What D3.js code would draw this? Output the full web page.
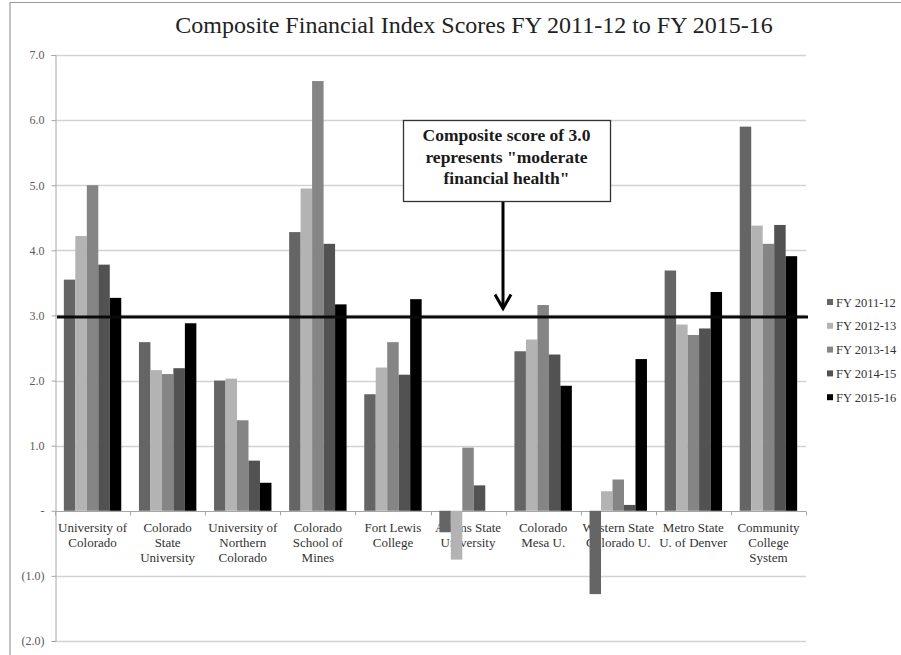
<!DOCTYPE html>
<html>
<head>
<meta charset="utf-8">
<script src="https://cdn.jsdelivr.net/npm/d3@7"></script>
<style>
  html, body { margin: 0; padding: 0; background: #fff; }
  svg { display: block; }
  text { font-family: "Liberation Serif", "Times New Roman", "DejaVu Serif", serif; }
</style>
</head>
<body>
<svg id="chart" width="901" height="655"></svg>
<script>
// Institutions (line breaks mark wrapped axis labels)
const categories = [
  "University of\nColorado",
  "Colorado\nState\nUniversity",
  "University of\nNorthern\nColorado",
  "Colorado\nSchool of\nMines",
  "Fort Lewis\nCollege",
  "Adams State\nUniversity",
  "Colorado\nMesa U.",
  "Western State\nColorado U.",
  "Metro State\nU. of Denver",
  "Community\nCollege\nSystem"
];

const seriesNames = ["FY 2011-12", "FY 2012-13", "FY 2013-14", "FY 2014-15", "FY 2015-16"];

// Composite Financial Index score per fiscal year, one entry per institution
const fy1112 = [3.55, 2.59, 2.00, 4.28, 1.79, -0.33, 2.45, -1.28, 3.69, 5.90];
const fy1213 = [4.22, 2.16, 2.03, 4.95, 2.20, -0.75, 2.63, 0.30, 2.86, 4.38];
const fy1314 = [5.00, 2.10, 1.39, 6.60, 2.59, 0.97, 3.16, 0.48, 2.70, 4.10];
const fy1415 = [3.78, 2.19, 0.77, 4.10, 2.09, 0.39, 2.40, 0.09, 2.80, 4.39];
const fy1516 = [3.27, 2.88, 0.43, 3.17, 3.25, null, 1.92, 2.33, 3.36, 3.91];

const seriesValues = [fy1112, fy1213, fy1314, fy1415, fy1516];
const seriesColors = ["#656565", "#b3b3b3", "#858585", "#525252", "#000000"];

const yTicks = [-2, -1, 0, 1, 2, 3, 4, 5, 6, 7];
const yTickLabels = ["(2.0)", "(1.0)", "-", "1.0", "2.0", "3.0", "4.0", "5.0", "6.0", "7.0"];

const benchmark = 3.0;
const noteLines = ["Composite score of 3.0", "represents \"moderate", "financial health\""];
const title = "Composite Financial Index Scores FY 2011-12 to FY 2015-16";

const svg = d3.select("#chart");
const W = 901, H = 655;
const plot = { left: 55, right: 806, top: 55, bottom: 641 };

svg.append("rect").attr("width", W).attr("height", H).attr("fill", "#fff");

// outer frame (top and left edges)
svg.append("line").attr("x1", 10).attr("x2", W).attr("y1", 2.5).attr("y2", 2.5)
  .attr("stroke", "#9a9a9a").attr("stroke-width", 1.2);
svg.append("line").attr("x1", 10).attr("x2", 10).attr("y1", 2).attr("y2", H)
  .attr("stroke", "#9a9a9a").attr("stroke-width", 1.2);

const y = d3.scaleLinear().domain([-2, 7]).range([plot.bottom, plot.top]);
const x0 = d3.scaleBand().domain(d3.range(categories.length)).range([plot.left, plot.right]).padding(0);
const x1 = d3.scaleBand().domain(d3.range(seriesNames.length)).range([0, x0.bandwidth()])
  .paddingInner(0).paddingOuter(0.77);

// gridlines
svg.append("g").selectAll("line").data(yTicks.filter(v => v !== 0)).join("line")
  .attr("x1", plot.left).attr("x2", plot.right)
  .attr("y1", d => Math.round(y(d)) + 0.5).attr("y2", d => Math.round(y(d)) + 0.5)
  .attr("stroke", "#d2d2d2").attr("stroke-width", 1.3);

// y axis
const yAxis = d3.axisLeft(y).tickValues(yTicks).tickSize(4).tickPadding(7)
  .tickFormat((d, i) => yTickLabels[i]);
const gy = svg.append("g").attr("transform", `translate(${plot.left + 0.5},0)`).call(yAxis);
gy.select(".domain").attr("stroke", "#a6a6a6");
gy.selectAll(".tick line").attr("stroke", "#a6a6a6");
gy.selectAll(".tick text").attr("fill", "#5a5a5a").style("font-size", "12px")
  .style("font-family", "\"Liberation Serif\", serif");

// category axis along zero
const zeroY = Math.round(y(0)) + 0.5;
svg.append("line").attr("x1", plot.left).attr("x2", plot.right).attr("y1", zeroY).attr("y2", zeroY)
  .attr("stroke", "#a6a6a6").attr("stroke-width", 1);
svg.append("g").selectAll("line").data(d3.range(categories.length + 1)).join("line")
  .attr("x1", i => Math.round(plot.left + i * x0.step()) + 0.5)
  .attr("x2", i => Math.round(plot.left + i * x0.step()) + 0.5)
  .attr("y1", zeroY).attr("y2", zeroY + 4)
  .attr("stroke", "#a6a6a6");

// category labels (drawn under the bars)
const catG = svg.append("g");
categories.forEach((c, i) => {
  const t = catG.append("text")
    .attr("x", x0(i) + x0.bandwidth() / 2)
    .attr("y", zeroY + 20)
    .attr("text-anchor", "middle")
    .attr("fill", "#333")
    .style("font-size", "13px");
  c.split("\n").forEach((line, k) => {
    t.append("tspan").attr("x", x0(i) + x0.bandwidth() / 2).attr("dy", k === 0 ? 0 : 15.4).text(line);
  });
});

// bars
const barData = [];
seriesValues.forEach((vals, s) => {
  vals.forEach((v, i) => { if (v !== null) barData.push({ s, i, v }); });
});
svg.append("g").selectAll("rect").data(barData).join("rect")
  .attr("x", d => x0(d.i) + x1(d.s))
  .attr("width", x1.bandwidth())
  .attr("y", d => y(Math.max(0, d.v)))
  .attr("height", d => Math.abs(y(d.v) - y(0)))
  .attr("fill", d => seriesColors[d.s]);

// benchmark line at 3.0
svg.append("line")
  .attr("x1", plot.left + 2).attr("x2", plot.right + 2)
  .attr("y1", y(benchmark) + 1.5).attr("y2", y(benchmark) + 1.5)
  .attr("stroke", "#0a0a0a").attr("stroke-width", 3);

// callout box with arrow
const box = { x: 403, y: 120, w: 207, h: 81 };
const arrowX = 503;
svg.append("line").attr("x1", arrowX).attr("x2", arrowX)
  .attr("y1", box.y + box.h).attr("y2", y(benchmark) - 7)
  .attr("stroke", "#000").attr("stroke-width", 3);
svg.append("path")
  .attr("d", `M${arrowX - 8},${y(benchmark) - 21} L${arrowX},${y(benchmark) - 7} L${arrowX + 8},${y(benchmark) - 21}`)
  .attr("fill", "none").attr("stroke", "#000").attr("stroke-width", 3);
svg.append("rect").attr("x", box.x + 0.5).attr("y", box.y + 0.5).attr("width", box.w).attr("height", box.h)
  .attr("fill", "#fff").attr("stroke", "#333").attr("stroke-width", 1.3);
const note = svg.append("text").attr("text-anchor", "middle").attr("fill", "#1a1a1a")
  .style("font-size", "17.5px").style("font-weight", "bold");
noteLines.forEach((line, k) => {
  note.append("tspan").attr("x", box.x + box.w / 2).attr("y", box.y + 21 + k * 21.5).text(line);
});

// title
svg.append("text").attr("x", 474).attr("y", 33).attr("text-anchor", "middle")
  .attr("fill", "#222").style("font-size", "24px").text(title);

// legend
const legend = svg.append("g");
seriesNames.forEach((name, s) => {
  const ly = 302 + s * 23.8;
  legend.append("rect").attr("x", 827).attr("y", ly - 3).attr("width", 6).attr("height", 6)
    .attr("fill", seriesColors[s]);
  legend.append("text").attr("x", 836).attr("y", ly + 4.5).attr("fill", "#333")
    .style("font-size", "12.5px").text(name);
});
</script>
</body>
</html>
